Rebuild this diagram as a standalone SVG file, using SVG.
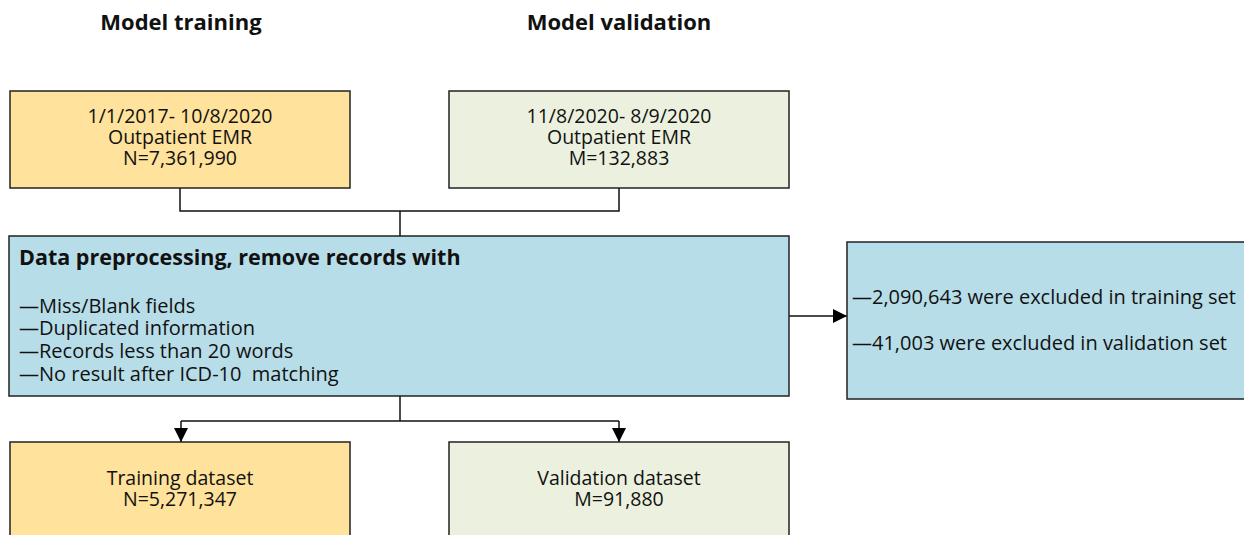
<svg xmlns="http://www.w3.org/2000/svg" width="1244" height="535" viewBox="0 0 1244 535">
<defs>
<style>
text{font-family:"Open Sans","Noto Sans","Liberation Sans",sans-serif;fill:#111;white-space:pre;}
.title{font-size:22px;font-weight:bold;text-anchor:middle;}
.c{font-size:19.5px;text-anchor:middle;}
.cb{font-size:19.5px;text-anchor:middle;}
.l{font-size:20px;}
.h{font-size:21.5px;font-weight:bold;}
.box{stroke:#222;stroke-width:1.5;}
.yel{fill:#FFE29B;}
.grn{fill:#EBF1DE;}
.blu{fill:#B7DDE8;}
.ln{fill:none;stroke:#111;stroke-width:1.5;}
</style>
<marker id="arrb" viewBox="0 0 14 14" refX="14" refY="7" markerWidth="14" markerHeight="14" markerUnits="userSpaceOnUse" orient="auto">
<path d="M0,0 L14,7 L0,14 z" fill="#000"/>
</marker>
</defs>
<rect width="1244" height="535" fill="#fff"/>
<text class="title" x="181" y="30">Model training</text>
<text class="title" x="619" y="30">Model validation</text>
<g id="connectors">
<path class="ln" d="M180,188 V211 H619 V188"/>
<path class="ln" d="M400,211 V236"/>
<path class="ln" d="M789,316 H847" marker-end="url(#arrb)"/>
<path class="ln" d="M400,396 V421"/>
<path class="ln" d="M181,421 H619"/>
<path class="ln" d="M181,421 V442" marker-end="url(#arrb)"/>
<path class="ln" d="M619,421 V442" marker-end="url(#arrb)"/>
</g>
<g id="train-src">
<rect class="box yel" x="10" y="91" width="340" height="97"/>
<text class="c" x="180" y="123">1/1/2017- 10/8/2020</text>
<text class="c" x="180" y="144">Outpatient EMR</text>
<text class="c" x="180" y="165">N=7,361,990</text>
</g>
<g id="valid-src">
<rect class="box grn" x="449" y="91" width="340" height="97"/>
<text class="c" x="619" y="123">11/8/2020- 8/9/2020</text>
<text class="c" x="619" y="144">Outpatient EMR</text>
<text class="c" x="619" y="165">M=132,883</text>
</g>
<g id="preprocess">
<rect class="box blu" x="9" y="236" width="780" height="160"/>
<text class="h" x="19" y="265">Data preprocessing, remove records with</text>
<text class="l" x="19" y="313">—Miss/Blank fields</text>
<text class="l" x="19" y="335">—Duplicated information</text>
<text class="l" x="19" y="358">—Records less than 20 words</text>
<text class="l" x="19" y="381">—No result after ICD-10  matching</text>
</g>
<g id="excluded">
<rect class="box blu" x="847" y="242" width="400" height="157"/>
<text class="l" x="852" y="304">—2,090,643 were excluded in training set</text>
<text class="l" x="852" y="350">—41,003 were excluded in validation set</text>
</g>
<g id="train-set">
<rect class="box yel" x="10" y="442" width="340" height="100"/>
<text class="cb" x="180" y="485">Training dataset</text>
<text class="cb" x="180" y="506">N=5,271,347</text>
</g>
<g id="valid-set">
<rect class="box grn" x="449" y="442" width="340" height="100"/>
<text class="cb" x="619" y="485">Validation dataset</text>
<text class="cb" x="619" y="506">M=91,880</text>
</g>
</svg>
